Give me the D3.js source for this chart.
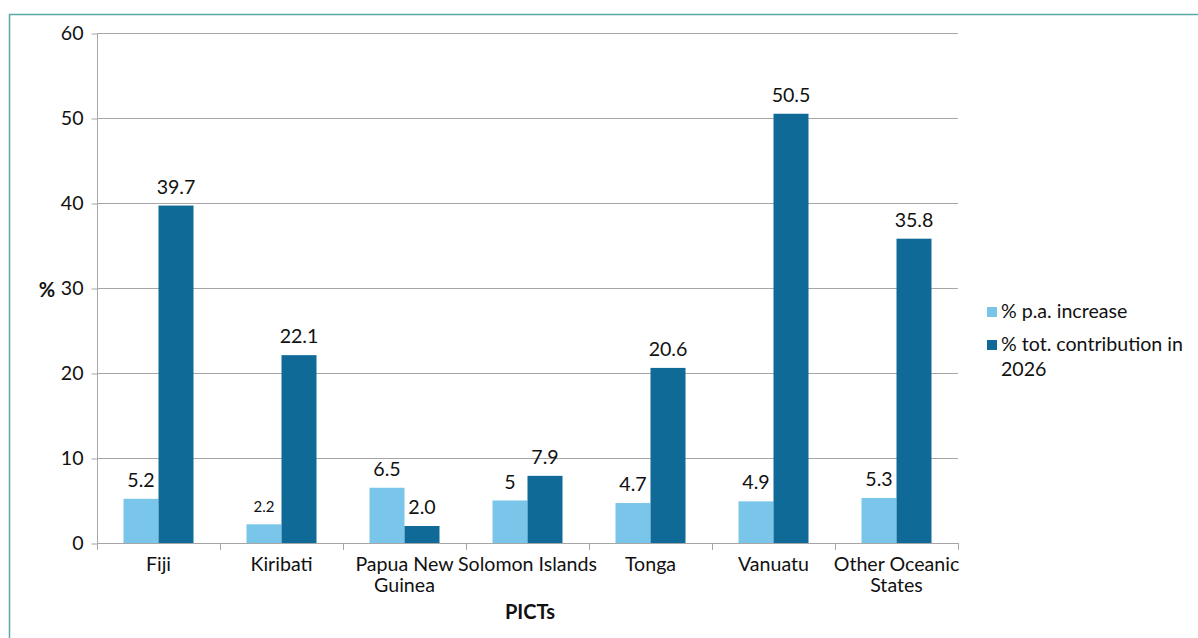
<!doctype html>
<html>
<head>
  <meta charset="UTF-8">
  <title>PICTs</title>
  <script src="https://cdn.jsdelivr.net/npm/d3@7"></script>
  <style>
    body { margin: 0; background: #fff; }
    svg text { font-family: Lato, "Open Sans", sans-serif; fill: #111; }
  </style>
</head>
<body>
<div id="chart"></div>
<script>
  // data
  var categories = ["Fiji", "Kiribati", "Papua New|Guinea", "Solomon Islands", "Tonga", "Vanuatu", "Other Oceanic|States"];
  var increase = [5.2, 2.2, 6.5, 5, 4.7, 4.9, 5.3];
  var increaseLabels = ["5.2", "2.2", "6.5", "5", "4.7", "4.9", "5.3"];
  var contribution = [39.7, 22.1, 2.0, 7.9, 20.6, 50.5, 35.8];
  var contributionLabels = ["39.7", "22.1", "2.0", "7.9", "20.6", "50.5", "35.8"];
  var yTicks = [0, 10, 20, 30, 40, 50, 60];
  var seriesNames = ["% p.a. increase", "% tot. contribution in|2026"];
  var colors = ["#7ac6ea", "#106a98"];

  var w = 1198, h = 638,
    pL = 97, pR = 958, pT = 33, pB = 543,
    fs = "19.6px";

  var svg = d3.select("#chart").append("svg")
    .attr("width", w).attr("height", h);

  // outer frame (runs past the right and bottom edges)
  svg.append("rect")
    .attr("x", 9.5).attr("y", 14.5)
    .attr("width", w + 20).attr("height", h + 20)
    .attr("fill", "none").attr("stroke", "#5aa9a9").attr("stroke-width", 1.5);

  var x = d3.scaleBand().domain(d3.range(categories.length)).range([pL, pR]).paddingInner(0).paddingOuter(0);
  var y = d3.scaleLinear().domain([0, 60]).range([pB, pT]);
  var barW = 35;

  var g = svg.append("g");

  // gridlines
  g.selectAll(".grid").data(yTicks.slice(1)).enter().append("line")
    .attr("x1", pL).attr("x2", pR)
    .attr("y1", function(d) { return Math.round(y(d)) + 0.5; })
    .attr("y2", function(d) { return Math.round(y(d)) + 0.5; })
    .attr("stroke", "#a6a6a6").attr("stroke-width", 1);

  // y axis
  var yAxis = g.append("g").attr("transform", "translate(" + (pL + 0.5) + ",0.5)")
    .call(d3.axisLeft(y).tickValues(yTicks).tickSize(6).tickPadding(8));
  yAxis.select(".domain").attr("stroke", "#a6a6a6").attr("d", "M0," + pT + "V" + pB);
  yAxis.selectAll(".tick line").attr("stroke", "#a6a6a6");
  yAxis.selectAll(".tick text").style("font-size", fs).style("font-family", "Lato, 'Open Sans', sans-serif").attr("fill", "#111");

  // x axis line and ticks
  g.append("line").attr("x1", pL).attr("x2", pR)
    .attr("y1", pB + 0.5).attr("y2", pB + 0.5).attr("stroke", "#a6a6a6");
  g.selectAll(".xtick").data(d3.range(categories.length + 1)).enter().append("line")
    .attr("x1", function(i) { return Math.round(pL + i * x.bandwidth()) + 0.5; })
    .attr("x2", function(i) { return Math.round(pL + i * x.bandwidth()) + 0.5; })
    .attr("y1", pB).attr("y2", pB + 7)
    .attr("stroke", "#a6a6a6");

  // bars
  var series = [increase, contribution];
  var labels = [increaseLabels, contributionLabels];
  series.forEach(function(vals, s) {
    g.selectAll(".bar" + s).data(vals).enter().append("rect")
      .attr("x", function(d, i) { return x(i) + x.bandwidth() / 2 - barW + s * barW; })
      .attr("y", function(d) { return y(d); })
      .attr("width", barW)
      .attr("height", function(d) { return pB - y(d); })
      .attr("fill", colors[s]);
    g.selectAll(".lab" + s).data(vals).enter().append("text")
      .attr("x", function(d, i) { return x(i) + x.bandwidth() / 2 - barW / 2 + s * barW; })
      .attr("y", function(d) { return y(d) - 12; })
      .attr("text-anchor", "middle")
      .style("font-size", function(d, i) { return labels[s][i] === "2.2" ? "15px" : fs; })
      .text(function(d, i) { return labels[s][i]; });
  });

  // category labels
  categories.forEach(function(c, i) {
    var t = g.append("text").attr("x", x(i) + x.bandwidth() / 2).attr("y", 571)
      .attr("text-anchor", "middle").style("font-size", fs);
    c.split("|").forEach(function(line, k) {
      t.append("tspan").attr("x", x(i) + x.bandwidth() / 2).attr("dy", k ? 21 : 0).text(line);
    });
  });

  // axis titles
  svg.append("text").attr("x", 47).attr("y", 297).attr("text-anchor", "middle")
    .style("font-size", "20px").style("font-weight", "bold").text("%");
  svg.append("text").attr("x", 530).attr("y", 619).attr("text-anchor", "middle")
    .style("font-size", "20px").style("font-weight", "bold").text("PICTs");

  // legend
  var legY = [312, 345];
  seriesNames.forEach(function(name, s) {
    svg.append("rect").attr("x", 987).attr("y", legY[s] - 5).attr("width", 10).attr("height", 10).attr("fill", colors[s]);
    var t = svg.append("text").attr("x", 1001).attr("y", legY[s] + 6).style("font-size", fs);
    name.split("|").forEach(function(line, k) {
      t.append("tspan").attr("x", 1001).attr("dy", k ? 25 : 0).text(line);
    });
  });
</script>
</body>
</html>
